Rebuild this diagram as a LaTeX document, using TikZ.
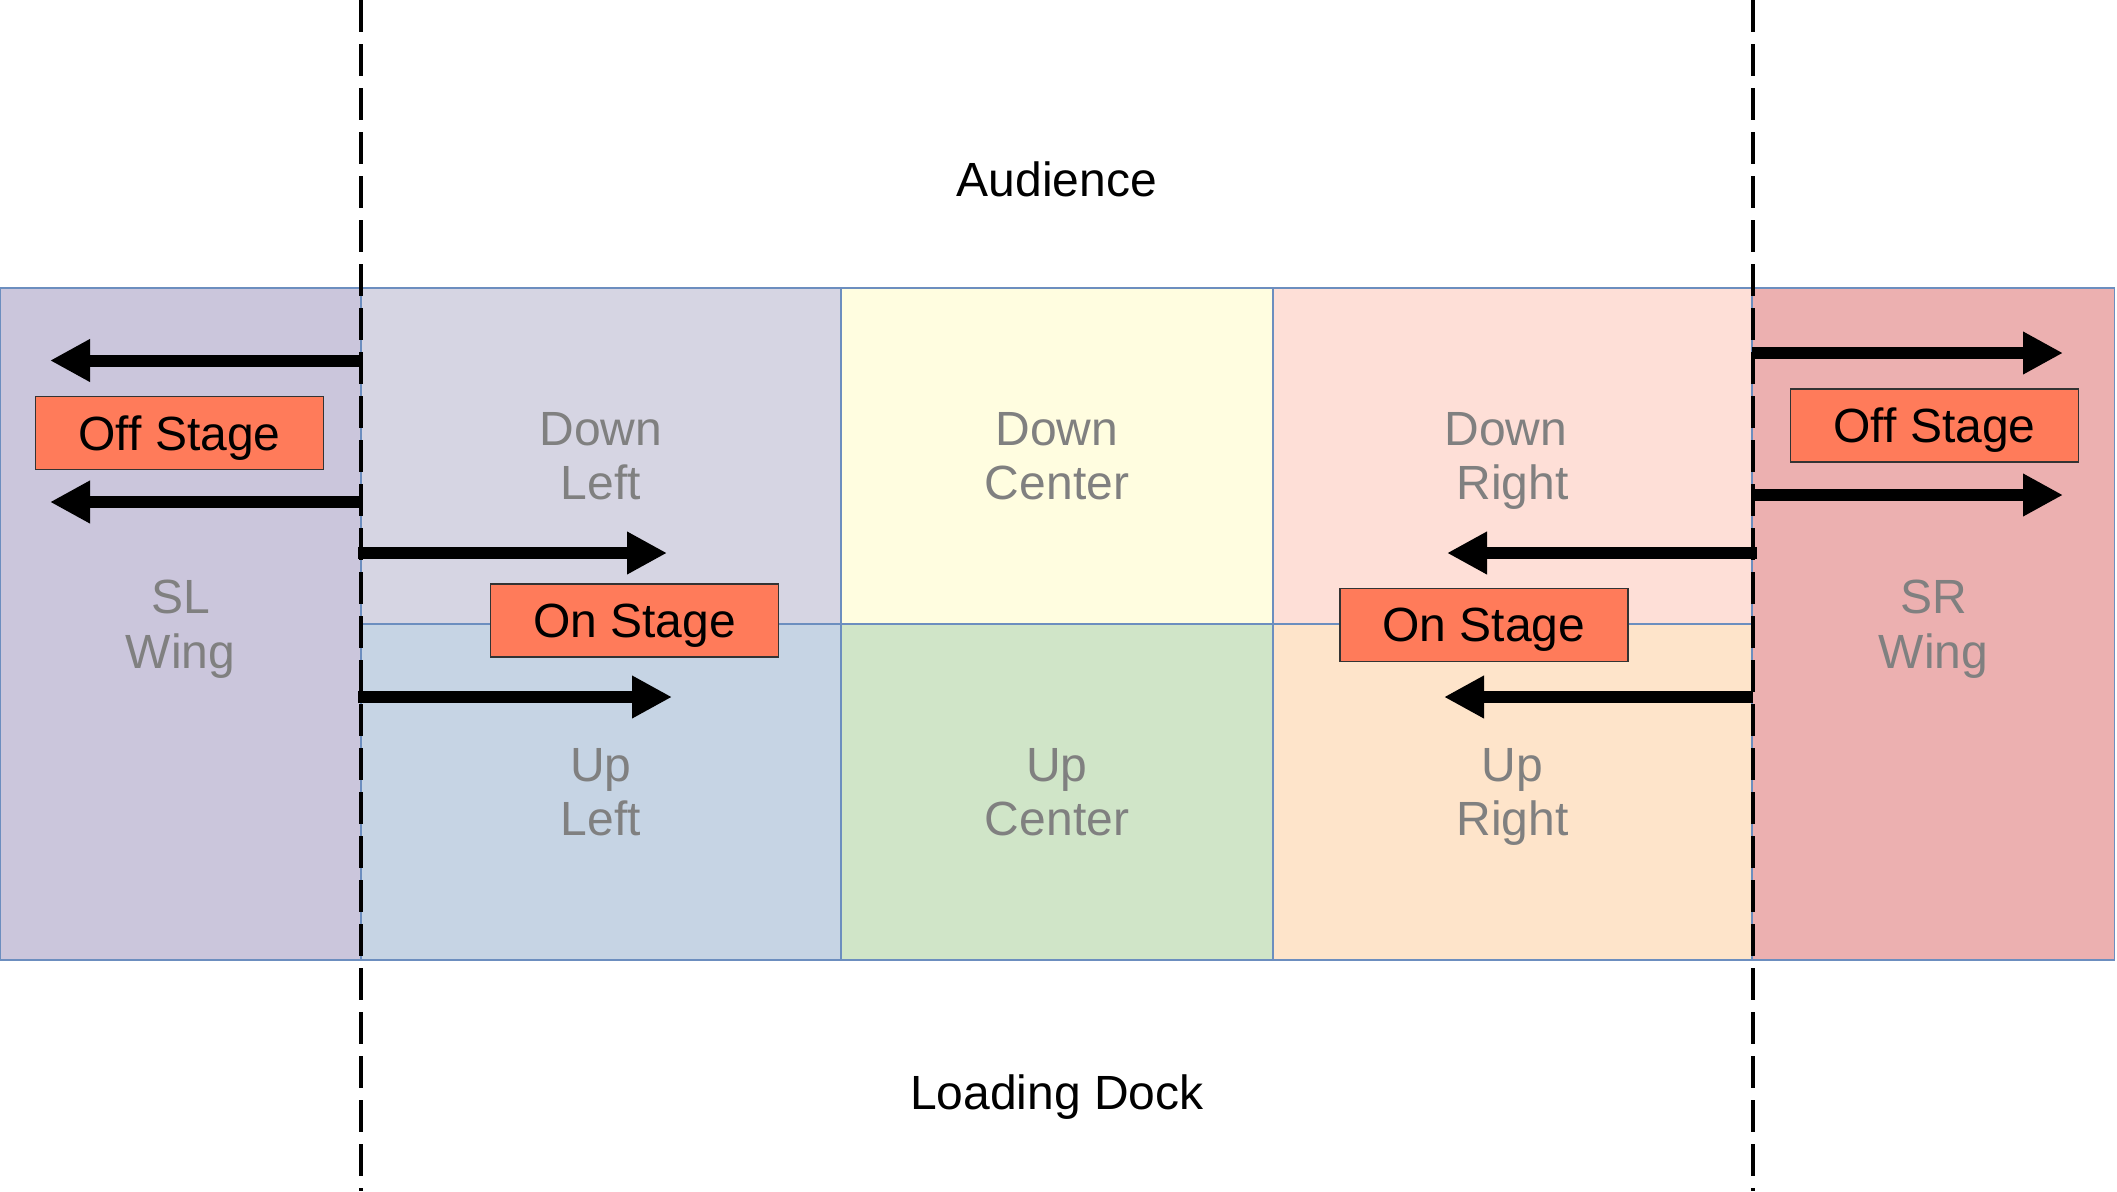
\documentclass[tikz,border=0pt]{standalone}
\usepackage{fontspec}
\setmainfont{Liberation Sans}
\usetikzlibrary{arrows.meta}
\definecolor{stageblue}{HTML}{6C8EBF}
\definecolor{slfill}{HTML}{CBC6DC}
\definecolor{dlfill}{HTML}{D6D5E3}
\definecolor{ulfill}{HTML}{C6D4E4}
\definecolor{dcfill}{HTML}{FFFDE0}
\definecolor{ucfill}{HTML}{D0E5C8}
\definecolor{drfill}{HTML}{FEDFD7}
\definecolor{urfill}{HTML}{FEE4CA}
\definecolor{srfill}{HTML}{ECB0B0}
\definecolor{boxfill}{HTML}{FF7B5A}
\definecolor{labelgray}{HTML}{808080}
\newcommand\bigtext{\fontsize{48pt}{54.5pt}\selectfont}
\begin{document}
\begin{tikzpicture}[x=1pt,y=-1pt,
  cell/.style={draw=stageblue, line width=1.5pt, text=labelgray, align=center,
    text depth=0pt, inner sep=0pt, outer sep=0pt, font=\bigtext},
  stagebox/.style={draw=black!80, line width=1.2pt, fill=boxfill, text=black,
    minimum width=288pt, minimum height=73pt, inner sep=0pt, outer sep=0pt,
    text depth=0pt, font=\bigtext},
  plain/.style={text=black, font=\bigtext, inner sep=0pt},
  wingline/.style={line width=4pt, dash pattern=on 32pt off 12pt},
  bigarrow/.style={line width=12pt, -{Triangle[length=40pt,width=40pt]}}]
\useasboundingbox (0,0) rectangle (2117,1191);
% cells
\node[cell, fill=slfill, minimum width=360pt, minimum height=672pt] (sl) at (180.5,624) {SL\\Wing};
\node[cell, fill=dlfill, minimum width=480pt, minimum height=336pt] (dl) at (601,456) {Down\\Left};
\node[cell, fill=ulfill, minimum width=480pt, minimum height=336pt] (ul) at (601,792) {Up\\Left};
\node[cell, fill=dcfill, minimum width=432pt, minimum height=336pt] (dc) at (1057,456) {Down\\Center};
\node[cell, fill=ucfill, minimum width=432pt, minimum height=336pt] (uc) at (1057,792) {Up\\Center};
\node[cell, fill=drfill, minimum width=479pt, minimum height=336pt] (dr) at (1512.5,456) {Down\hspace*{0.28em}\\Right};
\node[cell, fill=urfill, minimum width=479pt, minimum height=336pt] (ur) at (1512.5,792) {Up\\Right};
\node[cell, fill=srfill, minimum width=362pt, minimum height=672pt] (sr) at (1933.5,624) {SR\\Wing};
% wing lines
\coordinate (wl1) at (361,0);
\coordinate (wl2) at (361,1191);
\coordinate (wr1) at (1752.5,0);
\coordinate (wr2) at (1752.5,1191);
\draw[wingline] (wl1) -- (wl2);
\draw[wingline] (wr1) -- (wr2);
% arrows left
\coordinate (a1s) at (360,360.5); \coordinate (a1e) at (50,360.5);
\coordinate (a2s) at (360,502);   \coordinate (a2e) at (50,502);
\coordinate (a3s) at (358,553);   \coordinate (a3e) at (667,553);
\coordinate (a4s) at (358,697);   \coordinate (a4e) at (672,697);
\draw[bigarrow] (a1s) -- (a1e);
\draw[bigarrow] (a2s) -- (a2e);
\draw[bigarrow] (a3s) -- (a3e);
\draw[bigarrow] (a4s) -- (a4e);
% arrows right
\coordinate (b1s) at (1752,353);  \coordinate (b1e) at (2063,353);
\coordinate (b2s) at (1752,495);  \coordinate (b2e) at (2063,495);
\coordinate (b3s) at (1757,553);  \coordinate (b3e) at (1447,553);
\coordinate (b4s) at (1753,697);  \coordinate (b4e) at (1444,697);
\draw[bigarrow] (b1s) -- (b1e);
\draw[bigarrow] (b2s) -- (b2e);
\draw[bigarrow] (b3s) -- (b3e);
\draw[bigarrow] (b4s) -- (b4e);
% boxes
\node[stagebox] (offl) at (179.5,433) {Off Stage};
\node[stagebox] (offr) at (1934.5,425.5) {Off Stage};
\node[stagebox] (onl) at (634.5,620.5) {On Stage};
\node[stagebox] (onr) at (1484,624.8) {On Stage};
% titles
\node[plain, anchor=base] (aud) at (1057,196.5) {Audience};
\node[plain, anchor=base] (dock) at (1057,1109) {Loading Dock};
\end{tikzpicture}
\end{document}
